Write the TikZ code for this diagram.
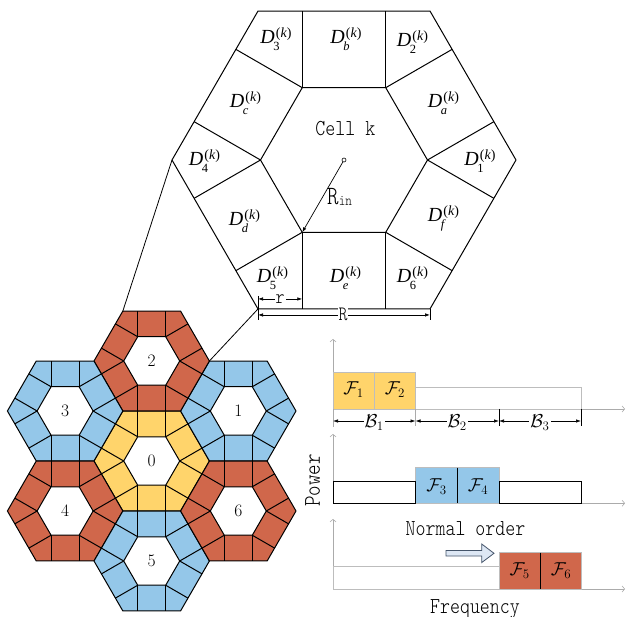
\documentclass[tikz,border=0pt]{standalone}
\usepackage{fontspec}
\usepackage{graphicx}
\usetikzlibrary{calc,arrows.meta}

\newfontfamily\serifit{Liberation Serif}
\newfontfamily\monolight{Latin Modern Mono Light}

\definecolor{cellred}{HTML}{D0674B}
\definecolor{cellblue}{HTML}{94C7E9}
\definecolor{cellyellow}{HTML}{FFD46B}
\definecolor{axisgray}{HTML}{ABABAB}
\definecolor{boxgray}{HTML}{BDBDBD}
\definecolor{arrowfill}{HTML}{DDE7F4}
\definecolor{arrowedge}{HTML}{44546A}

% tall narrow label text
\newcommand{\cntext}[2]{{\fontsize{#1}{#1}\selectfont\monolight\scalebox{1}[1.2]{#2}}}
% region label D with superscript (k) and a subscript
\newcommand{\dlab}[1]{{\serifit\fontsize{20}{20}\selectfont\textit{D}\kern1pt%
  \rlap{\kern-2.5pt\raisebox{-7pt}{\fontsize{12.5}{12.5}\selectfont#1}}%
  \raisebox{6pt}{\fontsize{14}{14}\selectfont(\textit{k})}}}
% band labels
\newcommand{\flab}[1]{\scalebox{1.08}{\fontsize{17.28}{20}\selectfont$#1$}}

\tikzset{
  cellline/.style={line width=1pt, line join=round},
  linkline/.style={line width=0.8pt},
  dimarrow/.style={line width=0.7pt, {Latex[length=5pt,width=3.5pt]}-{Latex[length=5pt,width=3.5pt]}},
  axisline/.style={draw=axisgray, line width=0.6pt, -{Straight Barb[length=2.5pt,width=6pt]}},
  graytick/.style={draw=axisgray, line width=0.6pt},
  darktick/.style={draw=black, line width=0.8pt},
  dlabel/.style={anchor=base, inner sep=0pt},
  numlabel/.style={inner sep=0pt, font=\fontsize{17.5}{17.5}\selectfont},
  bandbox/.style={draw=boxgray, line width=0.6pt},
  powerbox/.style={draw=black, line width=0.8pt},
}

% hexagonal cell: outer hexagon, inner hexagon, and the ring split by
% perpendiculars dropped from every inner corner to the two nearest outer sides
\newcommand{\hexring}[6]{%
  \begin{scope}[shift={(#2,#3)}]
    \fill[#6, even odd rule]
      (0:#4) -- (60:#4) -- (120:#4) -- (180:#4) -- (240:#4) -- (300:#4) -- cycle
      (0:#5) -- (60:#5) -- (120:#5) -- (180:#5) -- (240:#5) -- (300:#5) -- cycle;
    \draw[cellline] (0:#4) -- (60:#4) -- (120:#4) -- (180:#4) -- (240:#4) -- (300:#4) -- cycle;
    \draw[cellline] (0:#5) -- (60:#5) -- (120:#5) -- (180:#5) -- (240:#5) -- (300:#5) -- cycle;
    \foreach \a in {0,60,...,300}{
      \draw[cellline] (\a:#5) -- ++(\a+30:{(#4-#5)*0.8660254});
      \draw[cellline] (\a:#5) -- ++(\a-30:{(#4-#5)*0.8660254});
    }
    \coordinate (#1-c) at (0,0);
    \foreach \a [count=\i] in {0,60,...,300}{
      \coordinate (#1-o\i) at (\a:#4);
      \coordinate (#1-i\i) at (\a:#5);
    }
  \end{scope}}

\begin{document}
\begin{tikzpicture}[x=1pt,y=-1pt]
\useasboundingbox (0,0) rectangle (627,617);

% ---------------- seven-cell cluster ----------------
\hexring{c0}{151.7}{461}{57.7}{28}{cellyellow}
\hexring{c1}{238.3}{411}{57.7}{28}{cellblue}
\hexring{c2}{151.7}{361}{57.7}{28}{cellred}
\hexring{c3}{65.1}{411}{57.7}{28}{cellblue}
\hexring{c4}{65.1}{511}{57.7}{28}{cellred}
\hexring{c5}{151.7}{561}{57.7}{28}{cellblue}
\hexring{c6}{238.3}{511}{57.7}{28}{cellred}
\foreach \k in {0,...,6}{ \node[numlabel] (n\k) at (c\k-c) {\k}; }

% ---------------- enlarged cell k ----------------
\hexring{hk}{344}{160}{172}{83.5}{white}
\draw[linkline] (hk-o4) -- (c2-o5);
\draw[linkline] (hk-o3) -- (c2-o1);

\node[dlabel] (d3) at (276,44)    {\dlab{3}};
\node[dlabel] (db) at (346,44)    {\dlab{\textit{b}}};
\node[dlabel] (d2) at (412.5,47)  {\dlab{2}};
\node[dlabel] (dc) at (245.5,108) {\dlab{\textit{c}}};
\node[dlabel] (da) at (443.5,108) {\dlab{\textit{a}}};
\node[dlabel] (d4) at (204.5,166) {\dlab{4}};
\node[dlabel] (d1) at (480,166)   {\dlab{1}};
\node[dlabel] (dd) at (244.5,226) {\dlab{\textit{d}}};
\node[dlabel] (df) at (443.5,222) {\dlab{\textit{f}}};
\node[dlabel] (d5) at (272.5,283) {\dlab{5}};
\node[dlabel] (de) at (345.5,283) {\dlab{\textit{e}}};
\node[dlabel] (d6) at (412.5,283) {\dlab{6}};

\node[anchor=base] (cellk) at (345.3,135.7) {\cntext{19}{Cell k}};

% inner radius
\draw[line width=0.7pt, shorten <=2pt, -{Latex[length=5pt,width=3.5pt]}] (hk-c) -- (hk-i3);
\draw[line width=0.6pt, fill=white] (hk-c) circle (2);
\node[anchor=base west, inner sep=0pt] (rin) at (327,205)
  {\cntext{22}{R}\raisebox{-1pt}{\cntext{12.5}{in}}};

% dimensions r and R
\draw[darktick] ($(hk-o3)+(0,-13)$) -- ($(hk-o3)+(0,11)$);
\draw[darktick] (hk-o2) -- ($(hk-o2)+(0,11)$);
\coordinate (rl) at ($(hk-o3)+(0,-10)$);
\coordinate (rr) at ($(hk-i3 |- hk-o3)+(0,-10)$);
\draw[dimarrow] (rl) -- (rr) node[midway, fill=white, inner sep=1pt] (rlab) {\cntext{17}{r}};
\coordinate (Rl) at ($(hk-o3)+(0,6)$);
\coordinate (Rr) at ($(hk-o2)+(0,6)$);
\draw[dimarrow] (Rl) -- (Rr);
\node[fill=white, inner sep=1pt] (Rlab) at (343,314.5) {\cntext{17}{R}};

% ---------------- spectrum plots ----------------
% cell 0: band B1 at full power
\coordinate (a1) at (333,409);
\draw[axisline] (a1) -- (333,339);
\draw[axisline] (a1) -- (625,409);
\draw[bandbox] (415.5,387.3) rectangle (581,409);
\filldraw[fill=cellyellow, draw=boxgray, line width=0.6pt] (333,372) rectangle (374.2,409);
\filldraw[fill=cellyellow, draw=boxgray, line width=0.6pt] (374.2,372) rectangle (415.5,409);
\node (f1) at (353.6,389.5) {\flab{\mathcal{F}_1}};
\node (f2) at (394.9,389.5) {\flab{\mathcal{F}_2}};
\draw[graytick] (333,409) -- (333,427);
\draw[graytick] (415.5,409) -- (415.5,426);
\draw[darktick] (499,409) -- (499,426);
\draw[darktick] (581,409) -- (581,426);
\draw[dimarrow] (333,421) -- (415.5,421);
\draw[dimarrow] (415.5,421) -- (499,421);
\draw[dimarrow] (499,421) -- (581,421);
\node[fill=white, inner sep=1pt] (b1) at (374.2,423) {\flab{\mathcal{B}_1}};
\node[fill=white, inner sep=1pt] (b2) at (457.2,423) {\flab{\mathcal{B}_2}};
\node[fill=white, inner sep=1pt] (b3) at (540,423) {\flab{\mathcal{B}_3}};

% cells 1,3,5: band B2 at full power
\coordinate (a2) at (333,503.3);
\draw[axisline] (a2) -- (333,434);
\draw[axisline] (a2) -- (625,503.3);
\filldraw[fill=cellblue, draw=boxgray, line width=0.6pt] (415.7,467.7) rectangle (499,503.3);
\draw[powerbox] (333,481.7) rectangle (415.7,503.3);
\draw[powerbox] (499,481.7) rectangle (581.7,503.3);
\draw[darktick] (457.3,467.7) -- (457.3,503.3);
\node (f3) at (436.5,486.5) {\flab{\mathcal{F}_3}};
\node (f4) at (478.1,486.5) {\flab{\mathcal{F}_4}};
\node[rotate=90] (power) at (312.5,480.5) {\cntext{20}{Power}};

\node[anchor=base] (order) at (465.5,536) {\cntext{19}{Normal order}};
\draw[fill=arrowfill, draw=arrowedge, line width=0.8pt]
  (446,550.5) -- (481.7,550.5) -- (481.7,544) -- (494,553.3) -- (481.7,562.6)
  -- (481.7,556.1) -- (446,556.1) -- cycle;

% cells 2,4,6: band B3 at full power
\coordinate (a3) at (333,589);
\draw[axisline] (a3) -- (333,519);
\draw[axisline] (a3) -- (625,589);
\draw[bandbox] (333,566.7) rectangle (499,589);
\filldraw[fill=cellred, draw=boxgray, line width=0.6pt] (499,552.7) rectangle (581.7,589);
\draw[darktick] (540.3,552.7) -- (540.3,589);
\node (f5) at (519.7,571) {\flab{\mathcal{F}_5}};
\node (f6) at (561,571) {\flab{\mathcal{F}_6}};

\node[anchor=base] (freq) at (475,613) {\cntext{19}{Frequency}};
\end{tikzpicture}
\end{document}
